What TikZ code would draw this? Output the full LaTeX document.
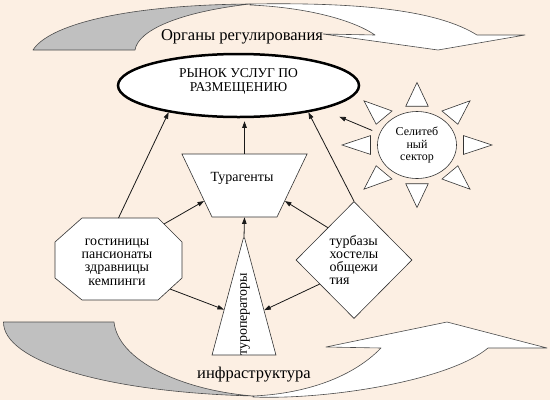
\documentclass[tikz,border=0pt]{standalone}
\usepackage{fontspec}
\setmainfont{Liberation Serif}
\usetikzlibrary{shapes.geometric,arrows.meta,calc}
\definecolor{bgc}{RGB}{252,239,227}
\definecolor{band}{RGB}{192,192,192}
\begin{document}
\begin{tikzpicture}[x=1pt,y=-1pt,
  shp/.style={draw=black!80, fill=white, line width=0.6pt, inner sep=0pt},
  arr/.style={draw=black!90, line width=0.8pt, -{Triangle[length=6.5pt,width=4.5pt]}},
  lbl/.style={font=\fontsize{14}{13.3}\selectfont, align=center, inner sep=0pt},
  blk/.style={draw=black!70, line width=0.6pt, line join=round},
  big/.style={font=\fontsize{16.5}{18}\selectfont, inner sep=0pt}
]
\fill[bgc] (0,0) rectangle (550,400);
\useasboundingbox (0,0) rectangle (550,400);

% top block arrow
\path[blk, fill=white] (250,4) .. controls (370,2) and (440,12) .. (477,35) -- (525,35) -- (438,50) -- (323,34) -- (375,35) .. controls (350,18) and (300,7) .. (250,5) -- cycle;
\path[blk, fill=band] (33,50) .. controls (48,26) and (120,5) .. (250,4) .. controls (180,12) and (138,30) .. (135,50) -- cycle;
\node[big] (org) at (242,37) {Органы регулирования};

% bottom block arrow
\path[blk, fill=white] (253,397) .. controls (330,400) and (450,380) .. (488,348) -- (547,348) -- (447,322) -- (326,347) -- (381,348) .. controls (350,380) and (300,394) .. (253,396) -- cycle;
\path[blk, fill=band] (3.5,322) -- (114,322) .. controls (118,360) and (180,390) .. (253,396) .. controls (100,392) and (3,360) .. (3.5,322) -- cycle;
\node[big] (infra) at (254,375) {инфраструктура};

% market ellipse
\node[shp, ellipse, draw=black, line width=2.5pt, minimum width=241pt, minimum height=63pt] (mkt) at (238.5,85.5) {};
\node[lbl, font=\fontsize{13.5}{14}\selectfont] (mktT) at (238.5,81) {РЫНОК УСЛУГ ПО\\РАЗМЕЩЕНИЮ};

% Turagenty
\node[shp, trapezium, trapezium left angle=64.5, trapezium right angle=64.5, shape border rotate=180, inner xsep=32.5pt, inner ysep=31.5pt] (tur) at (244.5,185.5) {};
\node[lbl] (turT) at (242,178) {Турагенты};

% tour operators triangle
\node[shp, trapezium, trapezium left angle=75, trapezium right angle=75, inner xsep=0.6pt, inner ysep=58.5pt] (tri) at (244,296.5) {};
\node[lbl, rotate=90] (triT) at (245,314.5) {туроператоры};

% octagon
\coordinate (o1) at (82,218);
\coordinate (o2) at (158,218);
\coordinate (o3) at (182,242);
\coordinate (o4) at (182,278);
\coordinate (o5) at (158,300);
\coordinate (o6) at (82,300);
\coordinate (o7) at (55,278);
\coordinate (o8) at (55,242);
\draw[shp, line join=miter] (o1) -- (o2) -- (o3) -- (o4) -- (o5) -- (o6) -- (o7) -- (o8) -- cycle;
\node[lbl] (oct) at (117,262) {гостиницы\\пансионаты\\здравницы\\кемпинги};

% diamond
\node[shp, diamond, minimum width=116pt, minimum height=117pt, align=left, font=\fontsize{14}{13.3}\selectfont] (dia) at (354,260) {турбазы\\хостелы\\общежи\\тия};

% sun
\node[shp, ellipse, minimum width=79pt, minimum height=67pt, align=center, font=\fontsize{12}{12.5}\selectfont] (sun) at (417,145) {Селитеб\\ный\\сектор};
\begin{scope}[shift={(417,145)}]
\foreach \a in {0,45,...,315}{
  \draw[shp] ({75*cos(\a)},{62.5*sin(\a)}) -- ({47.85*cos(\a+13.6)},{39.875*sin(\a+13.6)}) -- ({47.85*cos(\a-13.6)},{39.875*sin(\a-13.6)}) -- cycle;
}
\end{scope}

% connectors
\draw[arr, shorten >=3pt] (tur.90) -- (tur.90 |- mkt.south);
\draw[arr] ($(o1)!0.48!(o2)$) -- (mkt.201);
\draw[arr] (dia.north) -- (mkt.339);
\draw[arr, shorten <=8pt, shorten >=19pt] (sun.163) -- (mkt.-16.5);
\draw[arr] ($(o2)!0.25!(o3)$) -- (tur.201);
\draw[arr] (dia.129) -- (tur.-21);
\draw[arr] ($(o4)!0.5!(o5)$) -- (tri.213);
\draw[arr] (dia.215) -- (tri.-34);
\draw[arr] (tri.90) -- (tur.-90);
\end{tikzpicture}
\end{document}
